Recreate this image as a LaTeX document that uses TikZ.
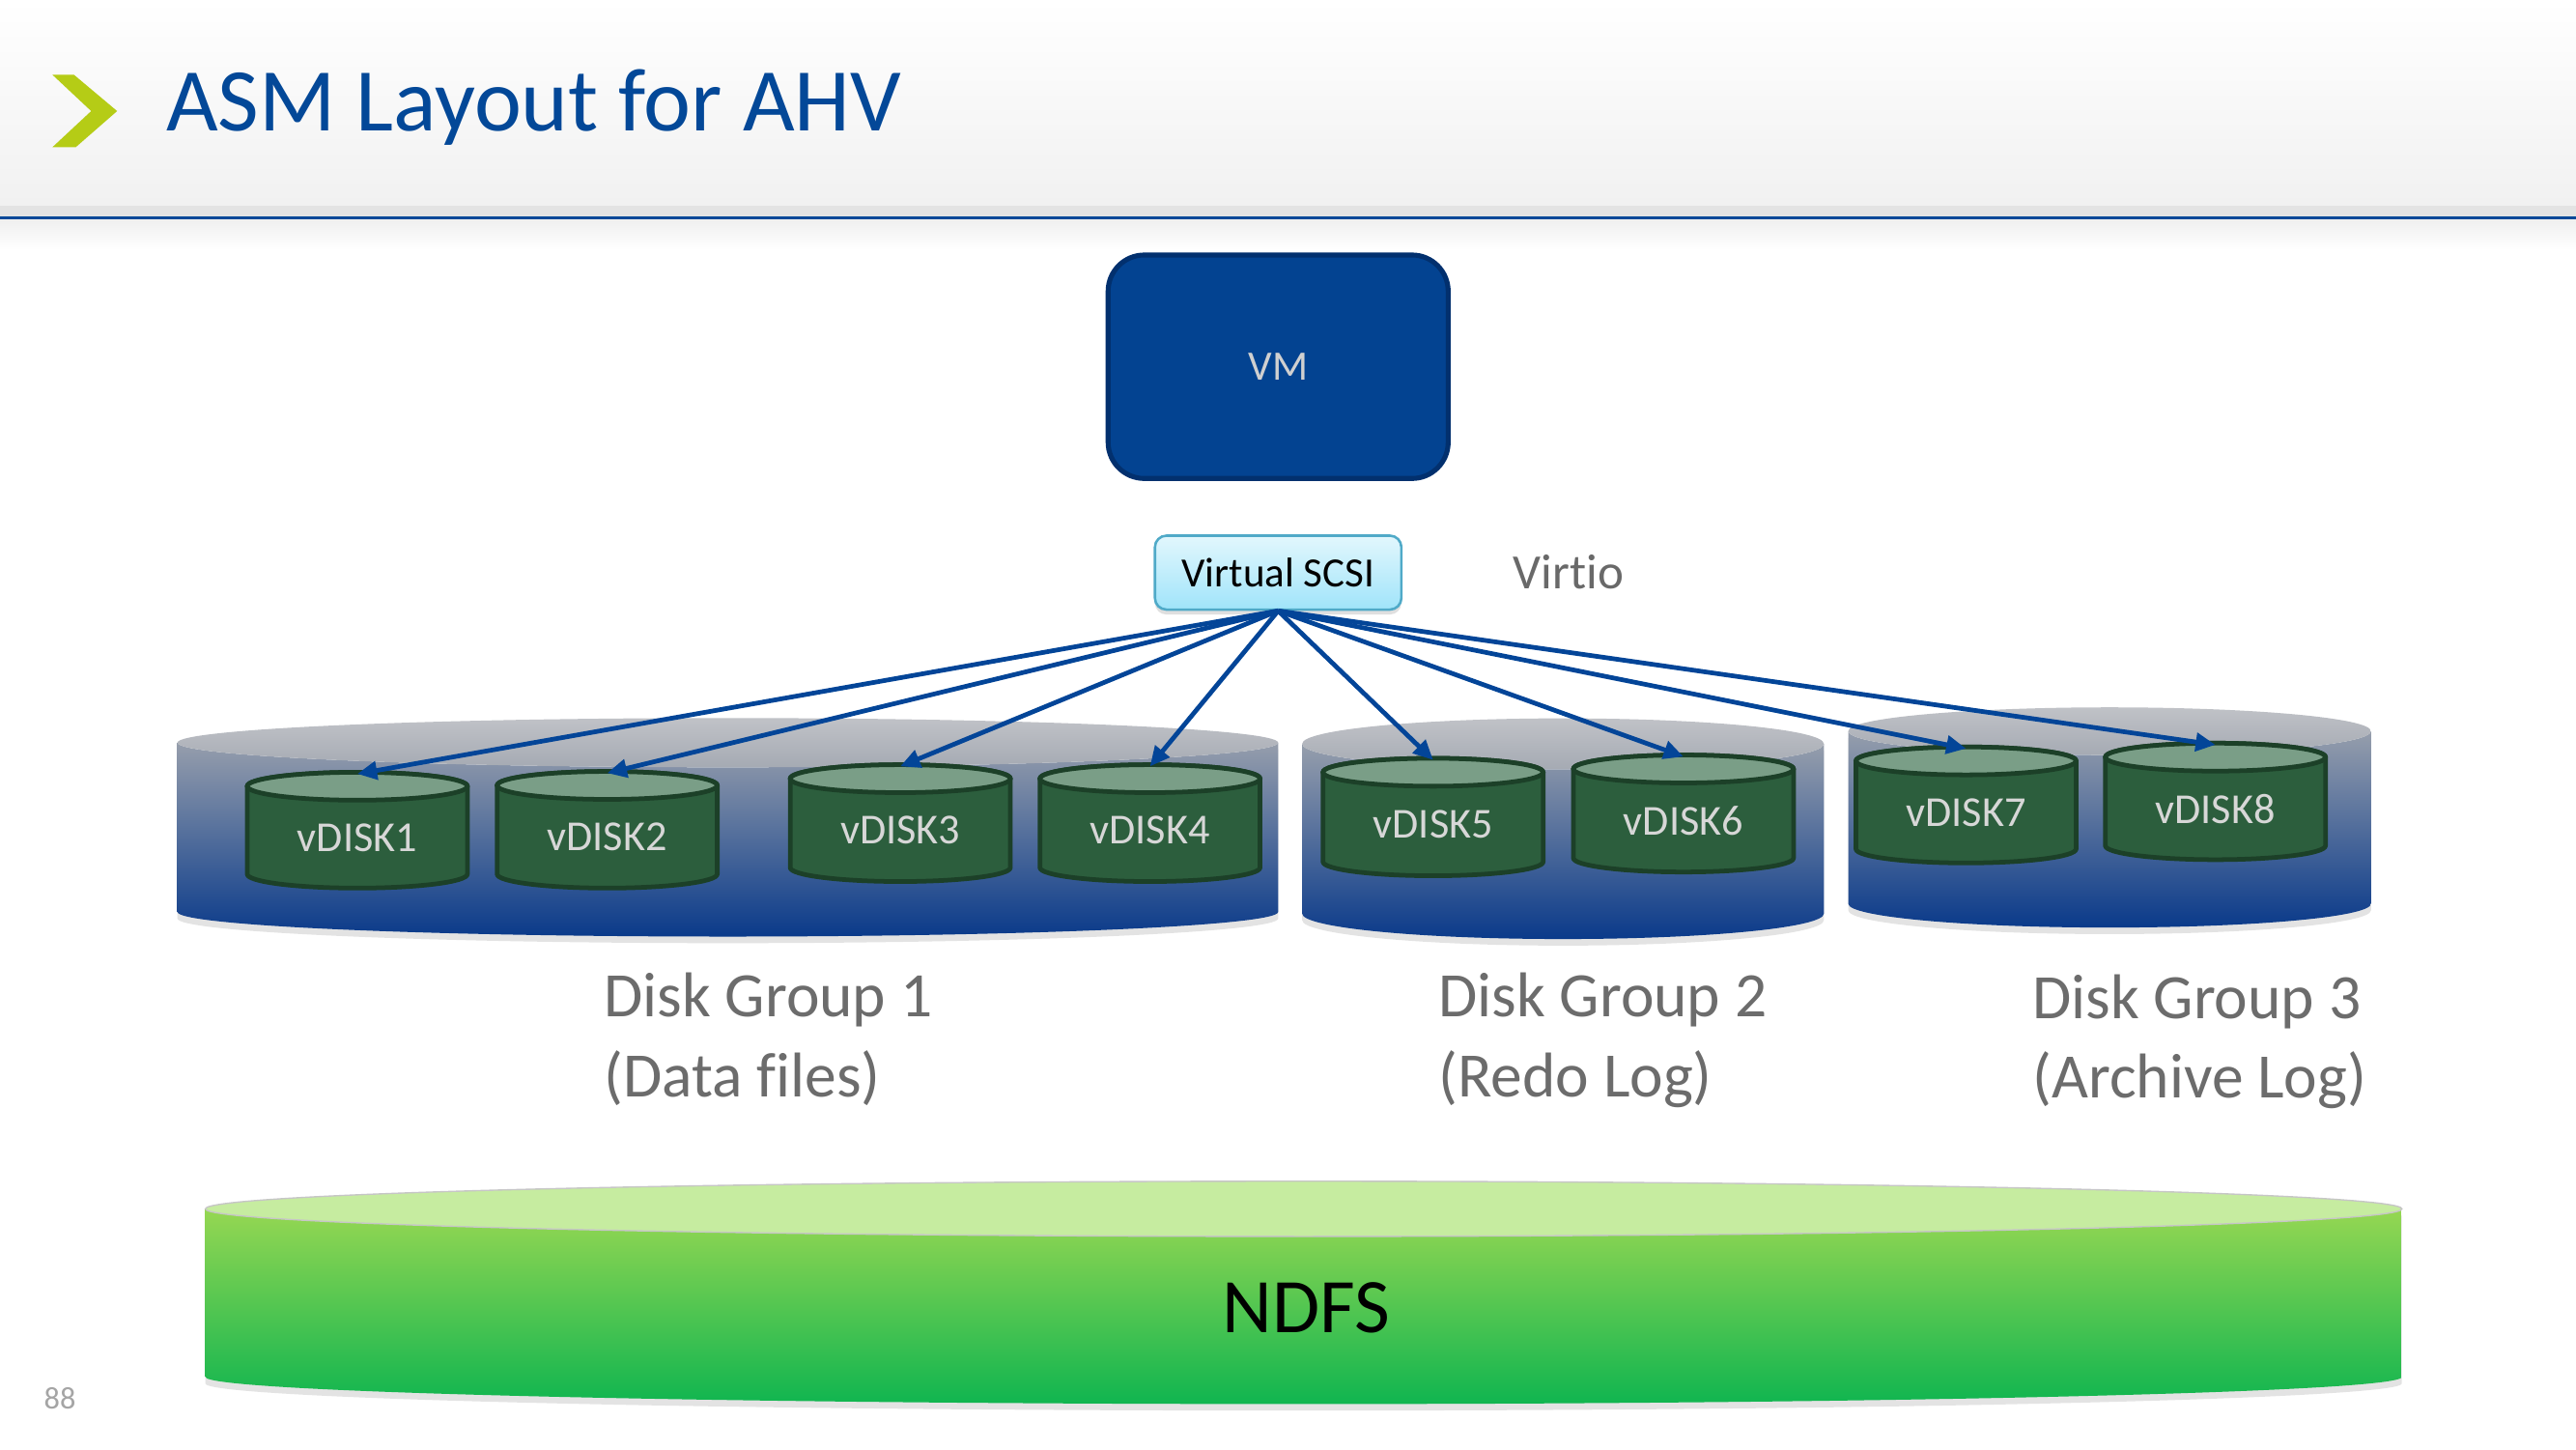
\documentclass[tikz,border=0pt]{standalone}
\usepackage{fontspec}
\setmainfont{Carlito}[Ligatures=NoCommon]
\usetikzlibrary{arrows.meta,shadows}
\definecolor{titleblue}{RGB}{3,72,152}
\definecolor{chevgreen}{RGB}{181,204,22}
\definecolor{vmfill}{RGB}{3,67,145}
\definecolor{vmedge}{RGB}{2,48,110}
\definecolor{vmtext}{RGB}{208,208,208}
\definecolor{scsitop}{RGB}{226,247,253}
\definecolor{scsibot}{RGB}{160,228,250}
\definecolor{scsiedge}{RGB}{80,170,200}
\definecolor{arrowblue}{RGB}{3,69,152}
\definecolor{vbodyc}{RGB}{44,94,61}
\definecolor{vtopc}{RGB}{122,158,135}
\definecolor{vedgec}{RGB}{28,64,40}
\definecolor{vtextc}{RGB}{215,215,215}
\definecolor{grpsideA}{RGB}{150,158,172}
\definecolor{grpsideB}{RGB}{10,58,138}
\definecolor{grptopA}{RGB}{192,194,199}
\definecolor{grptopB}{RGB}{165,170,179}
\definecolor{labelgray}{RGB}{108,108,108}
\definecolor{virtiogray}{RGB}{105,105,105}
\definecolor{ndfsA}{RGB}{150,215,82}
\definecolor{ndfsB}{RGB}{16,181,80}
\definecolor{ndfstop}{RGB}{198,236,160}
\definecolor{pagegray}{RGB}{165,165,165}
\tikzset{
  vdiskbody/.style={fill=vbodyc, draw=vedgec, line width=2.8pt, line join=round},
  vdisktop/.style={fill=vtopc, draw=vedgec, line width=2.8pt},
  vdisklabel/.style={text=vtextc, font=\fontsize{26}{30}\selectfont, inner sep=0pt},
  arr/.style={draw=arrowblue, line width=2.8pt, -{Triangle[length=12pt,width=11pt]}},
  grplabel/.style={text=labelgray, font=\fontsize{38.5}{48.5}\selectfont, align=left, anchor=base west, inner sep=0pt},
  grpside/.style={top color=grpsideA, bottom color=grpsideB, drop shadow={shadow xshift=0pt, shadow yshift=-4pt, opacity=0.22}},
  grptop/.style={top color=grptopA, bottom color=grptopB},
  vmbox/.style={fill=vmfill, draw=vmedge, line width=3pt, rounded corners=22pt, minimum width=207pt, minimum height=136pt, text=vmtext, font=\fontsize{25.5}{30}\selectfont},
  scsibox/.style={top color=scsitop, bottom color=scsibot, draw=scsiedge, line width=1.5pt, rounded corners=7pt, minimum width=150pt, minimum height=45pt, font=\fontsize{25.3}{30}\selectfont, drop shadow={shadow xshift=0pt, shadow yshift=-3pt, opacity=0.25}},
}
\newcommand\vdisk[5]{%
  \path[vdiskbody] (#2-67,#3+8.5) -- (#2-67,#4-8.5)
    arc[start angle=180,end angle=360,x radius=67pt,y radius=8.5pt]
    -- (#2+67,#3+8.5)
    arc[start angle=0,end angle=180,x radius=67pt,y radius=8.5pt] -- cycle;
  \path[vdisktop] (#2,#3+8.5) ellipse[x radius=67pt,y radius=8.5pt];
  \node[vdisklabel] (#1) at (#2,#3+40) {#5};
  \coordinate (top#1) at (#2,#3+1);
}
\newcommand\diskgroup[5]{%
  \shade[grpside] (#1-#2,#3) -- (#1-#2,#4)
    arc[start angle=180,end angle=360,x radius=#2pt,y radius=#5pt]
    -- (#1+#2,#3)
    arc[start angle=0,end angle=-180,x radius=#2pt,y radius=#5pt] -- cycle;
  \shade[grptop] (#1,#3) ellipse[x radius=#2pt,y radius=#5pt];
}
\begin{document}
\begin{tikzpicture}[x=1pt,y=-1pt]
\useasboundingbox (0,0) rectangle (1568,882);
\fill[white] (0,0) rectangle (1568,882);
% header
\shade[top color=white, bottom color=gray!11] (0,0) rectangle (1568,125);
\fill[gray!22] (0,125) rectangle (1568,131.5);
\fill[titleblue] (0,131.5) rectangle (1568,134);
\shade[top color=gray!12, bottom color=white] (0,134) rectangle (1568,152);
\fill[chevgreen] (31.9,45.5) -- (45,45.5) -- (71.3,67.6) -- (46.1,89.6) -- (31.9,89.6) -- (55.5,67.6) -- cycle;
\node[anchor=base west, inner sep=0pt, text=titleblue, font=\fontsize{54.5}{60}\selectfont] (title) at (101,79.8) {ASM Layout for AHV};

% VM and controller
\node[vmbox] (vm) at (778,223.2) {VM};
\node[scsibox] (scsi) at (778,348.5) {Virtual SCSI};
\node[anchor=base west, inner sep=0pt, text=virtiogray, font=\fontsize{30}{34}\selectfont] (virtio) at (921,358.6) {Virtio};

% disk groups
\diskgroup{443}{335}{452}{555}{15}
\diskgroup{951.4}{158.8}{452.7}{556}{15.5}
\diskgroup{1284.1}{159.1}{445}{550}{14.5}

% vdisks
\vdisk{1}{217.5}{470}{540.5}{vDISK1}
\vdisk{2}{369.6}{469.5}{540.5}{vDISK2}
\vdisk{3}{548}{465.4}{536.5}{vDISK3}
\vdisk{4}{700}{465.4}{536.5}{vDISK4}
\vdisk{5}{872.3}{461.5}{533}{vDISK5}
\vdisk{6}{1024.7}{459.5}{530.7}{vDISK6}
\vdisk{7}{1196.7}{454.6}{525.2}{vDISK7}
\vdisk{8}{1348.5}{452.3}{523.2}{vDISK8}

\foreach \i in {1,...,8} \draw[arr] (scsi.south) -- (top\i);

% labels (anchor = baseline of last line)
\node[grplabel] (g1) at (367.5,667.3) {Disk Group 1\\(Data files)};
\node[grplabel] (g2) at (875.5,667.3) {Disk Group 2\\(Redo Log)};
\node[grplabel] (g3) at (1237,668.3) {Disk Group 3\\(Archive Log)};

% NDFS
\shade[top color=ndfsA, bottom color=ndfsB, drop shadow={shadow xshift=0pt, shadow yshift=-4pt, opacity=0.22}]
  (125,735.7) -- (125,838) arc[start angle=180,end angle=360,x radius=668.5pt,y radius=16.5pt]
  -- (1462,735.7) arc[start angle=0,end angle=-180,x radius=668.5pt,y radius=16.8pt] -- cycle;
\path[fill=ndfstop, draw=gray!45, line width=0.8pt] (793.5,735.7) ellipse[x radius=668.5pt,y radius=16.8pt];
\node[font=\fontsize{47}{52}\selectfont, text=black] (ndfs) at (795,796) {NDFS};

\node[text=pagegray, font=\fontsize{19}{22}\selectfont, inner sep=0pt] (pg) at (36.5,851) {88};
\end{tikzpicture}
\end{document}
